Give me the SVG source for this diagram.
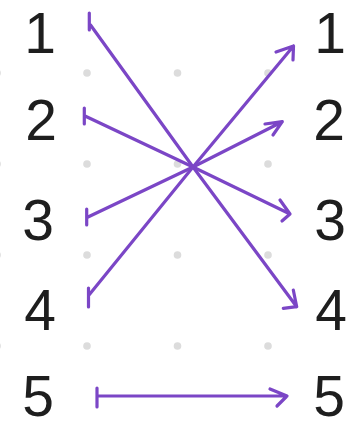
<svg xmlns="http://www.w3.org/2000/svg" width="347" height="421" viewBox="0 0 347 421">
<style>
.dot{fill:#dcdcdc}
.num{font-family:"Liberation Sans","DejaVu Sans",sans-serif;font-size:57px;fill:#1e1e1e;text-anchor:middle}
.arr{fill:none;stroke:#7b46c6;stroke-width:3.2;stroke-linecap:round;stroke-linejoin:round}
</style>
<rect width="347" height="421" fill="#ffffff"/>
<g id="grid">
<circle class="dot" cx="-3" cy="73" r="3.8"/><circle class="dot" cx="87" cy="73" r="3.8"/><circle class="dot" cx="177.5" cy="73" r="3.8"/><circle class="dot" cx="268" cy="73" r="3.8"/>
<circle class="dot" cx="-3" cy="164" r="3.8"/><circle class="dot" cx="87" cy="164" r="3.8"/><circle class="dot" cx="177.5" cy="164" r="3.8"/><circle class="dot" cx="268" cy="164" r="3.8"/>
<circle class="dot" cx="-3" cy="255" r="3.8"/><circle class="dot" cx="87" cy="255" r="3.8"/><circle class="dot" cx="177.5" cy="255" r="3.8"/><circle class="dot" cx="268" cy="255" r="3.8"/>
<circle class="dot" cx="-3" cy="346" r="3.8"/><circle class="dot" cx="87" cy="346" r="3.8"/><circle class="dot" cx="177.5" cy="346" r="3.8"/><circle class="dot" cx="268" cy="346" r="3.8"/>
</g>
<g id="left1"><text class="num" x="40" y="53">1</text></g>
<g id="left2"><text class="num" x="41" y="140">2</text></g>
<g id="left3"><text class="num" x="38" y="240">3</text></g>
<g id="left4"><text class="num" x="40" y="330">4</text></g>
<g id="left5"><text class="num" x="38" y="416">5</text></g>
<g id="right1"><text class="num" x="330" y="53">1</text></g>
<g id="right2"><text class="num" x="329" y="140">2</text></g>
<g id="right3"><text class="num" x="330" y="240">3</text></g>
<g id="right4"><text class="num" x="331" y="330">4</text></g>
<g id="right5"><text class="num" x="329" y="416">5</text></g>
<g id="connectors">
<g id="a1"><path class="arr" d="M89.3 13 L89.3 30 M90.5 25 L193 167 L296.7 306.7 M283.3 308.3 L296.7 306.7 L293.3 290"/></g>
<g id="a2"><path class="arr" d="M84.3 108 L84.3 124 M85 116 L193 167 L290 214 M280 200 L290 214 L282 221"/></g>
<g id="a3"><path class="arr" d="M86.7 209 L86.7 225 M88 217 L193 167 L282.3 121.7 M265 124 L282.3 121.7 L273 135"/></g>
<g id="a4"><path class="arr" d="M88.5 288 L88.5 307 M89 295 L193 167 L293.5 46 M276 52 L293.5 46 L293 60"/></g>
<g id="a5"><path class="arr" d="M97 388 L97 407 M97 396 L287 396 M270 389 L287 396 L277 406"/></g>
</g>
</svg>
